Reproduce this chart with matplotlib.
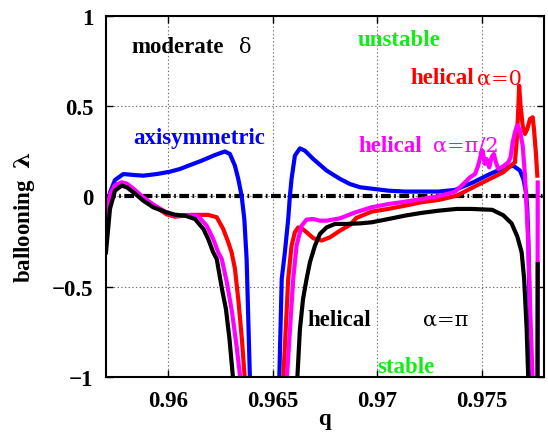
import numpy as np
from matplotlib import pyplot as plt

plt.rcParams['font.family'] = ['Liberation Serif', 'DejaVu Serif']
plt.rcParams['font.weight'] = 'bold'
plt.rcParams['font.size'] = 16.5
plt.rcParams['mathtext.fontset'] = 'custom'
plt.rcParams['mathtext.rm'] = 'DejaVu Serif'
plt.rcParams['mathtext.it'] = 'DejaVu Serif:italic'
plt.rcParams['lines.scale_dashes'] = False

nan = np.nan

# axisymmetric
q_axi = [0.95702, 0.95721, 0.95745, 0.95785, 0.95833, 0.95880, 0.95945, 0.96008, 0.96056,
         0.96096, 0.96160, 0.96223, 0.96271, 0.96295, 0.96319, 0.96335, 0.96351, 0.96364,
         0.96375, 0.96391, nan,
         0.96531, 0.96543, 0.96558, 0.96574, 0.96582, 0.96590, 0.96606, 0.96630, 0.96654,
         0.96694, 0.96758, 0.96822, 0.96869, 0.96917, 0.96989, 0.97053, 0.97133, 0.97212,
         0.97292, 0.97372, 0.97459, 0.97539, 0.97603, 0.97651, 0.97683, 0.97699, 0.97712,
         0.97718, 0.97723, 0.97731, 0.97739]
l_axi = [-0.22, 0.02, 0.09, 0.123, 0.118, 0.114, 0.123, 0.136, 0.151,
         0.169, 0.197, 0.228, 0.248, 0.234, 0.169, 0.096, 0.003, -0.126,
         -0.347, -1.02, nan,
         -1.02, -0.457, -0.31, -0.126, 0.0, 0.096, 0.225, 0.265, 0.252,
         0.206, 0.142, 0.096, 0.068, 0.05, 0.04, 0.031, 0.026, 0.026,
         0.026, 0.035, 0.077, 0.123, 0.155, 0.169, 0.142, 0.096, 0.022,
         -0.07, -0.236, -0.734, -1.02]

# helical alpha = 0
q_h0 = [0.95702, 0.95721, 0.95745, 0.95777, 0.95801, 0.95833, 0.95880, 0.95928, 0.95992,
        0.96032, 0.96112, 0.96191, 0.96232, 0.96263, 0.96287, 0.96303, 0.96319, 0.96336,
        0.96353, 0.96367, nan,
        0.96550, 0.96574, 0.96590, 0.96606, 0.96622, 0.96638, 0.96662, 0.96694, 0.96734,
        0.96774, 0.96822, 0.96869, 0.96900, 0.96973, 0.97053, 0.97133, 0.97212, 0.97296,
        0.97380, 0.97459, 0.97539, 0.97603, 0.97643, 0.97659, 0.97667, 0.97675, 0.97679,
        0.97686, 0.97696, 0.97707, 0.97718, 0.97731, 0.97744, 0.97750, 0.97759, 0.97766]
l_h0 = [-0.20, 0.0, 0.06, 0.075, 0.068, 0.04, -0.01, -0.05, -0.10,
        -0.113, -0.103, -0.103, -0.116, -0.181, -0.254, -0.31, -0.40, -0.58,
        -0.80, -1.02, nan,
        -1.02, -0.457, -0.273, -0.199, -0.172, -0.177, -0.199, -0.232, -0.245,
        -0.227, -0.19, -0.159, -0.12, -0.085, -0.07, -0.052, -0.033, -0.02,
        0.003, 0.05, 0.096, 0.133, 0.173, 0.188, 0.299, 0.483, 0.612,
        0.501, 0.39, 0.345, 0.372, 0.428, 0.437, 0.372, 0.243, 0.114]

# helical alpha = pi/2
q_h2 = [0.95702, 0.95721, 0.95745, 0.95777, 0.95801, 0.95833, 0.95880, 0.95928, 0.95992,
        0.96032, 0.96096, 0.96144, 0.96184, 0.96215, 0.96239, 0.96256, 0.96281, 0.96305,
        0.96326, 0.96346, nan,
        0.96567, 0.96598, 0.96614, 0.96638, 0.96662, 0.96694, 0.96726, 0.96758, 0.96822,
        0.96893, 0.96973, 0.97053, 0.97133, 0.97212, 0.97292, 0.97372, 0.97412, 0.97444,
        0.97468, 0.97483, 0.97495, 0.97504, 0.97515, 0.97523, 0.97536, 0.97547, 0.97558,
        0.97568, 0.97579, 0.97595, 0.97611, 0.97627, 0.97638, 0.97648, 0.97659, 0.97670,
        0.97683, 0.97696, 0.97707, 0.97715, 0.97723, 0.97735, 0.97744, nan,
        0.97767, 0.97768]
l_h2 = [-0.20, 0.01, 0.06, 0.077, 0.07, 0.042, -0.005, -0.045, -0.09,
        -0.107, -0.103, -0.111, -0.163, -0.236, -0.31, -0.347, -0.48, -0.64,
        -0.82, -1.02, nan,
        -1.02, -0.457, -0.273, -0.163, -0.129, -0.126, -0.135, -0.135, -0.122,
        -0.09, -0.061, -0.043, -0.03, -0.015, 0.0, 0.025, 0.068, 0.105,
        0.123, 0.169, 0.225, 0.252, 0.179, 0.206, 0.16, 0.215, 0.234,
        0.188, 0.151, 0.16, 0.173, 0.188, 0.215, 0.299, 0.354, 0.394,
        0.363, 0.28, 0.114, -0.07, -0.273, -0.734, -1.02, nan,
        -1.02, 0.076]

# helical alpha = pi
q_hp = [0.95702, 0.95721, 0.95745, 0.95777, 0.95801, 0.95833, 0.95880, 0.95928, 0.95992,
        0.96032, 0.96080, 0.96128, 0.96168, 0.96191, 0.96215, 0.96232, 0.96257, 0.96276,
        0.96293, 0.96311, nan,
        0.96617, 0.96630, 0.96645, 0.96662, 0.96678, 0.96702, 0.96726, 0.96758, 0.96798,
        0.96854, 0.96917, 0.96973, 0.97053, 0.97133, 0.97212, 0.97292, 0.97380, 0.97450,
        0.97550, 0.97603, 0.97643, 0.97670, 0.97691, 0.97703, 0.97715, 0.97723, nan,
        0.97767, 0.97768]
l_hp = [-0.31, -0.07, 0.031, 0.059, 0.05, 0.022, -0.024, -0.061, -0.089,
        -0.102, -0.107, -0.126, -0.181, -0.236, -0.31, -0.347, -0.513, -0.624,
        -0.79, -1.02, nan,
        -1.02, -0.736, -0.568, -0.457, -0.365, -0.273, -0.208, -0.172, -0.153,
        -0.153, -0.15, -0.144, -0.126, -0.107, -0.092, -0.08, -0.07, -0.07,
        -0.075, -0.105, -0.15, -0.222, -0.31, -0.457, -0.734, -1.02, nan,
        -1.02, -0.375]

xticks = [0.96, 0.965, 0.97, 0.975]
xticklabels = ['0.96', '0.965', '0.97', '0.975']
yticks = [-1, -0.5, 0, 0.5, 1]
yticklabels = ['\u22121', '\u22120.5', '0', '0.5', '1']

green = '#11ee11'
magenta = '#ff00ff'

fig = plt.figure(figsize=(5.48, 4.35), dpi=100)
ax = fig.add_axes([0.1934, 0.131, 0.7993, 0.831])

ax.axhline(0, color='k', lw=3, dashes=(7, 2.5, 1.2, 2.5))
ax.plot(q_axi, l_axi, color='b', lw=3)
ax.plot(q_h0, l_h0, color='r', lw=3)
ax.plot(q_h2, l_h2, color=magenta, lw=3)
ax.plot(q_hp, l_hp, color='k', lw=3)

ax.set_xlim(0.95702, 0.97798)
ax.set_ylim(-1, 1)
ax.set_xticks(xticks)
ax.set_xticklabels(xticklabels)
ax.set_yticks(yticks)
ax.set_yticklabels(yticklabels)
ax.tick_params(direction='in', top=True, right=True, length=5, width=1, pad=9)
ax.grid(True, linestyle=':', color='0.45', lw=0.8)
for s in ax.spines.values():
    s.set_linewidth(1.5)

ax.set_xlabel('q', fontweight='bold', labelpad=-2)
ax.set_ylabel(r'ballooning  $\mathrm{\lambda}$', fontweight='bold')
ax.yaxis.set_label_coords(-0.158, 0.445)

# annotations: bold word + regular greek part
def label(x1, x2, y, word, greek, col):
    ax.text(x1, y, word, color=col, fontweight='bold')
    if greek:
        ax.text(x2, y, greek, color=col, fontweight='normal',
                family='DejaVu Serif', fontsize=15)

label(0.95825, 0.96340, 0.800, 'moderate', '\u03b4', 'k')
label(0.96904, None, 0.837, 'unstable', None, green)
label(0.97157, 0.97476, 0.625, 'helical', '\u03b1=0', 'r')
label(0.95833, None, 0.295, 'axisymmetric', None, 'b')
label(0.96909, 0.97268, 0.249, 'helical', '\u03b1=\u03c0/2', magenta)
label(0.96668, 0.97218, -0.710, 'helical', '\u03b1=\u03c0', 'k')
label(0.96999, None, -0.972, 'stable', None, green)

fig.savefig('out.png', dpi=100)
